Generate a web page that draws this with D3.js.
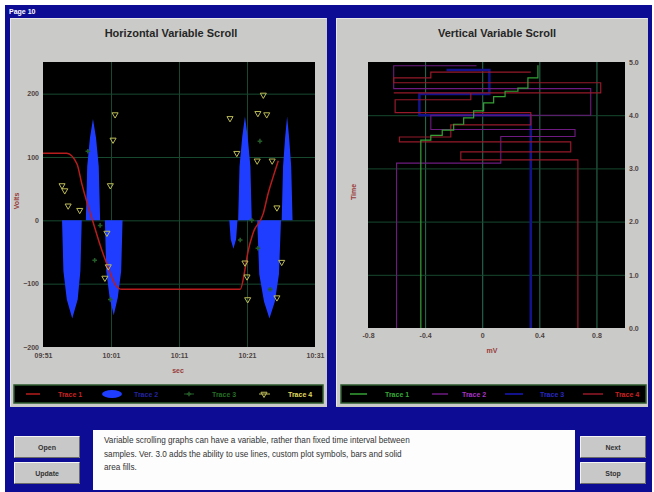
<!DOCTYPE html>
<html>
<head>
<meta charset="utf-8">
<script src="https://cdn.jsdelivr.net/npm/d3@7"></script>
<style>
  body { margin: 0; background: #ffffff; }
  svg { display: block; }
  text { font-family: Arial, "Liberation Sans", sans-serif; }
</style>
</head>
<body>
<svg id="c" width="654" height="492"></svg>
<script>
// ---------- Horizontal Variable Scroll ----------
const hTimeTicks  = [0, 10, 20, 30, 40];
const hTimeLabels = ["09:51", "10:01", "10:11", "10:21", "10:31"];
const hValueTicks = [-200, -100, 0, 100, 200];

// Trace 1 (red line)
const h1Time  = [0, 3.5, 5.0, 5.7, 6.5, 7.2, 8.4, 9.6, 10.6, 11.6, 29.0, 29.7, 30.1, 30.9, 32.4, 33.1, 33.8, 34.6];
const h1Value = [106, 106, 89, 58, 27, 3, -39, -75, -101, -109, -109, -78, -52, -20, 11, 42, 67, 94];

// Trace 2 (blue filled bursts, one row per burst)
const h2Time  = [2.8, 3.0, 3.5, 4.3, 5.1, 5.5, 5.7,
                 6.3, 6.5, 6.9, 7.35, 7.8, 8.2, 8.4,
                 9.1, 9.3, 9.8, 10.4, 11.0, 11.5, 11.7,
                 27.4, 27.6, 28.0, 28.4, 28.6,
                 28.7, 28.9, 29.3, 29.7, 30.1, 30.5, 30.7,
                 31.5, 31.8, 32.5, 33.3, 34.1, 34.7, 35.0,
                 35.1, 35.3, 35.6, 35.9, 36.2, 36.5, 36.7];
const h2Value = [0, -80, -125, -155, -125, -80, 0,
                 0, 85, 130, 160, 130, 85, 0,
                 0, -80, -122, -150, -122, -80, 0,
                 0, -30, -45, -30, 0,
                 0, 85, 132, 164, 132, 85, 0,
                 0, -85, -128, -155, -128, -85, 0,
                 0, 85, 130, 164, 130, 85, 0];

// Trace 3 (green crosses)
const h3Time  = [6.6, 8.4, 7.6, 9.9, 29.0, 30.7, 31.6, 33.4, 31.9];
const h3Value = [109, -8, -63, -125, -31, 0, -44, -109, 125];

// Trace 4 (yellow triangles)
const h4Time  = [10.6, 10.3, 9.9, 2.8, 3.2, 3.7, 5.4, 9.4, 9.6, 9.1,
                 27.5, 28.5, 31.6, 32.9, 32.4, 31.5, 33.7, 34.4, 29.7, 30.0, 30.1, 35.1, 34.4];
const h4Value = [167, 127, 55, 55, 47, 23, 16, -20, -73, -91,
                 161, 106, 169, 167, 198, 94, 94, 20, -67, -89, -125, -66, -122];

// ---------- Vertical Variable Scroll ----------
const vValueTicks  = [-0.8, -0.4, 0, 0.4, 0.8];
const vValueLabels = ["-0.8", "-0.4", "0", "0.4", "0.8"];
const vTimeTicks   = [0, 1, 2, 3, 4, 5];

// Trace 1 (green)
const v1Value = [-0.43, -0.43, -0.36, -0.28, -0.20, -0.13, -0.06, 0.01, 0.08, 0.16, 0.25, 0.32, 0.39];
const v1Time  = [0, 3.53, 3.62, 3.72, 3.83, 3.95, 4.08, 4.23, 4.35, 4.45, 4.51, 4.70, 4.94];
// Trace 2 (magenta)
const v2Value = [-0.60, -0.60, 0.13, 0.65, -0.36, 0.76, -0.62, -0.04];
const v2Time  = [0, 3.1, 3.6, 3.73, 4.0, 4.5, 4.93, 4.93];
// Trace 3 (blue)
const v3Value = [0.34, 0.34, -0.44, 0.05, -0.25];
const v3Time  = [0, 4.0, 4.4, 4.85, 4.85];
// Trace 4 (red)
const v4Value = [0.67, 0.67, -0.15, 0.62, -0.58, -0.22, 0.34, -0.61, -0.08, -0.62, 0.83, -0.29, -0.62, -0.36, 0.34];
const v4Time  = [0, 3.16, 3.31, 3.50, 3.59, 3.82, 4.05, 4.29, 4.42, 4.42, 4.61, 4.61, 4.70, 4.81, 4.81];

const infoText = [
  "Variable scrolling graphs can have a variable, rather than fixed time interval between",
  "samples. Ver. 3.0 adds the ability to use lines, custom plot symbols, bars and solid",
  "area fills."
];

const NAVY = "#0c0c94", PANEL = "#cacbc8", GRID = "#17492f";
const svg = d3.select("#c");

// window frame
svg.append("rect").attr("x", 5).attr("y", 5).attr("width", 647).attr("height", 487).attr("fill", NAVY);
svg.append("text").attr("x", 9).attr("y", 14).attr("fill", "#fff")
  .attr("font-size", 7).attr("font-weight", "bold").text("Page 10");

// panels
function panel(x, w) {
  svg.append("rect").attr("x", x).attr("y", 18).attr("width", w).attr("height", 389).attr("fill", PANEL);
  svg.append("path").attr("d", `M${x + 0.5},${406} V18.5 H${x + w - 0.5}`)
    .attr("fill", "none").attr("stroke", "#e6e6e6");
}
panel(10, 317);
panel(336, 312);

function title(cx, str) {
  svg.append("text").attr("x", cx).attr("y", 37).attr("text-anchor", "middle")
    .attr("font-size", 11).attr("font-weight", "bold").attr("fill", "#262626").text(str);
}
title(171, "Horizontal Variable Scroll");
title(497, "Vertical Variable Scroll");

function styleAxis(g, color) {
  g.select(".domain").remove();
  g.selectAll("text").attr("font-size", 7).attr("font-weight", "bold").attr("fill", color || "#4e4242");
}

// ===== Left chart =====
const hx = d3.scaleLinear().domain([0, 40]).range([43, 315]);
const hy = d3.scaleLinear().domain([-200, 250]).range([347, 62]);
const hPlot = svg.append("g");
hPlot.append("rect").attr("x", 43).attr("y", 62).attr("width", 272).attr("height", 285).attr("fill", "#000");

// grid
hPlot.append("g").attr("transform", "translate(0,347)")
  .call(d3.axisBottom(hx).tickValues(hTimeTicks.slice(1, -1)).tickSize(-285).tickFormat(""))
  .call(g => { g.select(".domain").remove(); g.selectAll("line").attr("stroke", GRID); });
hPlot.append("g").attr("transform", "translate(43,0)")
  .call(d3.axisLeft(hy).tickValues(hValueTicks.slice(1)).tickSize(-272).tickFormat(""))
  .call(g => { g.select(".domain").remove(); g.selectAll("line").attr("stroke", GRID); });

const hClip = svg.append("clipPath").attr("id", "hclip");
hClip.append("rect").attr("x", 43).attr("y", 62).attr("width", 272).attr("height", 285);
const hData = hPlot.append("g").attr("clip-path", "url(#hclip)");

// trace 2 bursts
const h2 = h2Time.map((t, i) => [t, h2Value[i]]);
hData.append("path").datum(h2)
  .attr("d", d3.area().x(d => hx(d[0])).y0(hy(0)).y1(d => hy(d[1])))
  .attr("fill", "#1f3dff");

// trace 1 line
const h1 = h1Time.map((t, i) => [t, h1Value[i]]);
hData.append("path").datum(h1)
  .attr("d", d3.line().x(d => hx(d[0])).y(d => hy(d[1])).curve(d3.curveMonotoneX))
  .attr("fill", "none").attr("stroke", "#b81d1d").attr("stroke-width", 1.5);

// trace 3 crosses
hData.selectAll(".h3").data(h3Time.map((t, i) => [t, h3Value[i]])).join("path")
  .attr("transform", d => `translate(${hx(d[0])},${hy(d[1])})`)
  .attr("d", d3.symbol(d3.symbolCross, 12)).attr("fill", "#245c28");

// trace 4 triangles
hData.selectAll(".h4").data(h4Time.map((t, i) => [t, h4Value[i]])).join("path")
  .attr("transform", d => `translate(${hx(d[0])},${hy(d[1])}) rotate(180)`)
  .attr("d", d3.symbol(d3.symbolTriangle, 16)).attr("fill", "none")
  .attr("stroke", "#bdbc58").attr("stroke-width", 1);

// axes
svg.append("g").attr("transform", "translate(43,0)")
  .call(d3.axisLeft(hy).tickValues(hValueTicks).tickSize(0).tickPadding(4))
  .call(g => styleAxis(g));
svg.append("g").attr("transform", "translate(0,347)")
  .call(d3.axisBottom(hx).tickValues(hTimeTicks).tickSize(0).tickPadding(6)
    .tickFormat((d, i) => hTimeLabels[i]))
  .call(g => styleAxis(g));
svg.append("text").attr("x", 178).attr("y", 373).attr("text-anchor", "middle")
  .attr("font-size", 7).attr("font-weight", "bold").attr("fill", "#9a3a3a").text("sec");
svg.append("text").attr("transform", "translate(19,201) rotate(-90)").attr("text-anchor", "middle")
  .attr("font-size", 7).attr("font-weight", "bold").attr("fill", "#9a3a3a").text("Volts");

// ===== Right chart =====
const vx = d3.scaleLinear().domain([-0.8, 1.0]).range([368, 625]);
const vy = d3.scaleLinear().domain([0, 5]).range([328, 62]);
const vPlot = svg.append("g");
vPlot.append("rect").attr("x", 368).attr("y", 62).attr("width", 257).attr("height", 266).attr("fill", "#000");
vPlot.append("g").attr("transform", "translate(0,328)")
  .call(d3.axisBottom(vx).tickValues(vValueTicks.slice(1)).tickSize(-266).tickFormat(""))
  .call(g => { g.select(".domain").remove(); g.selectAll("line").attr("stroke", "#2a7258"); });
vPlot.append("g").attr("transform", "translate(368,0)")
  .call(d3.axisLeft(vy).tickValues(vTimeTicks.slice(1, -1)).tickSize(-257).tickFormat(""))
  .call(g => { g.select(".domain").remove(); g.selectAll("line").attr("stroke", GRID); });

const vClip = svg.append("clipPath").attr("id", "vclip");
vClip.append("rect").attr("x", 368).attr("y", 62).attr("width", 257).attr("height", 266);
const vData = vPlot.append("g").attr("clip-path", "url(#vclip)");
const vLine = d3.line().x(d => vx(d[0])).y(d => vy(d[1])).curve(d3.curveStepAfter);
function vTrace(vals, times, color, w) {
  vData.append("path").datum(vals.map((v, i) => [v, times[i]]))
    .attr("d", vLine).attr("fill", "none").attr("stroke", color).attr("stroke-width", w);
}
vTrace(v3Value, v3Time, "#12128c", 2.5);
vTrace(v2Value, v2Time, "#6e1a80", 1.1);
vTrace(v4Value, v4Time, "#961a2a", 1.2);
vTrace(v1Value, v1Time, "#35a035", 1.2);

svg.append("g").attr("transform", "translate(625,0)")
  .call(d3.axisRight(vy).tickValues(vTimeTicks).tickSize(0).tickPadding(4).tickFormat(d3.format(".1f")))
  .call(g => styleAxis(g));
svg.append("g").attr("transform", "translate(0,328)")
  .call(d3.axisBottom(vx).tickValues(vValueTicks).tickSize(0).tickPadding(5)
    .tickFormat((d, i) => vValueLabels[i]))
  .call(g => styleAxis(g));
svg.append("text").attr("x", 492).attr("y", 353).attr("text-anchor", "middle")
  .attr("font-size", 7).attr("font-weight", "bold").attr("fill", "#9a3a3a").text("mV");
svg.append("text").attr("transform", "translate(356,192) rotate(-90)").attr("text-anchor", "middle")
  .attr("font-size", 7).attr("font-weight", "bold").attr("fill", "#9a3a3a").text("Time");

// ===== Legends =====
function legendBox(x, w) {
  svg.append("rect").attr("x", x).attr("y", 385).attr("width", w).attr("height", 18)
    .attr("fill", "#000").attr("stroke", "#2c5a2c").attr("stroke-width", 1.5);
}
legendBox(14, 309);
legendBox(341, 305);
function legText(x, str, color) {
  svg.append("text").attr("x", x).attr("y", 397).attr("font-size", 7).attr("font-weight", "bold")
    .attr("fill", color).text(str);
}
function legLine(x1, x2, color, w) {
  svg.append("line").attr("x1", x1).attr("x2", x2).attr("y1", 394).attr("y2", 394)
    .attr("stroke", color).attr("stroke-width", w || 1.5);
}
legLine(26, 40, "#b81d1d");
legText(58, "Trace 1", "#c82222");
svg.append("ellipse").attr("cx", 112).attr("cy", 394).attr("rx", 10).attr("ry", 4).attr("fill", "#1f3dff");
legText(134, "Trace 2", "#2424a0");
legLine(184, 194, "#245c28", 1);
svg.append("path").attr("transform", "translate(189,394)").attr("d", d3.symbol(d3.symbolCross, 12)).attr("fill", "#245c28");
legText(212, "Trace 3", "#266e26");
legLine(259, 270, "#bdbc58", 1);
svg.append("path").attr("transform", "translate(264,394) rotate(180)").attr("d", d3.symbol(d3.symbolTriangle, 16))
  .attr("fill", "none").attr("stroke", "#bdbc58");
legText(288, "Trace 4", "#e0da5e");

legLine(350, 367, "#35a035");
legText(385, "Trace 1", "#38a838");
legLine(432, 448, "#6e1a80");
legText(462, "Trace 2", "#a832c4");
legLine(505, 523, "#12128c", 2);
legText(540, "Trace 3", "#2828c0");
legLine(583, 603, "#961a2a");
legText(615, "Trace 4", "#cc2222");

// ===== Bottom controls =====
function button(x, y, label) {
  const g = svg.append("g").attr("transform", `translate(${x},${y})`);
  g.append("rect").attr("width", 66).attr("height", 22).attr("fill", "#c8c8c8");
  g.append("path").attr("d", "M0.5,21.5 V0.5 H65.5").attr("fill", "none").attr("stroke", "#f4f4f4");
  g.append("path").attr("d", "M0.5,21.5 H65.5 V0.5").attr("fill", "none").attr("stroke", "#6a6a6a");
  g.append("text").attr("x", 33).attr("y", 14).attr("text-anchor", "middle")
    .attr("font-size", 7).attr("font-weight", "bold").attr("fill", "#333").text(label);
}
button(14, 436, "Open");
button(14, 462, "Update");
button(580, 436, "Next");
button(580, 462, "Stop");

svg.append("rect").attr("x", 93).attr("y", 430).attr("width", 482).attr("height", 60).attr("fill", "#fdfdfd");
svg.append("g").selectAll("text").data(infoText).join("text")
  .attr("x", 104).attr("y", (d, i) => 443 + i * 13.5)
  .attr("font-family", "'Liberation Serif', 'DejaVu Serif', serif").attr("font-size", 8.2)
  .attr("fill", "#333").text(d => d);
</script>
</body>
</html>
